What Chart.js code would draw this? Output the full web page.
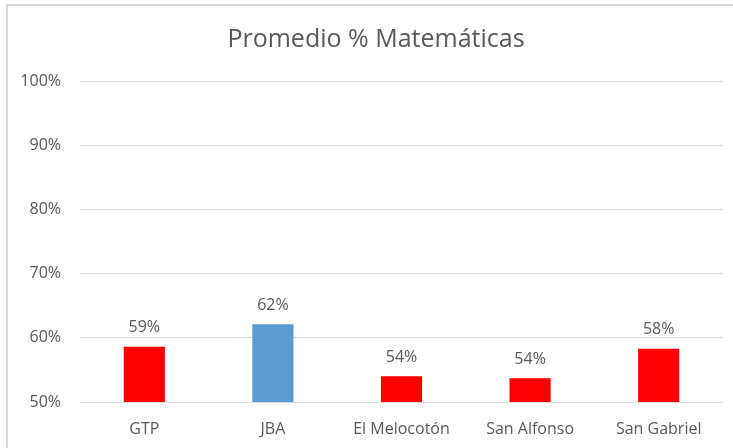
<!DOCTYPE html>
<html>
<head>
<meta charset="utf-8">
<script src="https://cdn.jsdelivr.net/npm/chart.js@4"></script>
<style>
  html, body { margin: 0; padding: 0; background: #fff; }
  .wrap { position: relative; width: 733px; height: 448px; overflow: hidden; }
  .frame { position: absolute; left: 6px; top: 4px; width: 800px; height: 500px;
           border-left: 2px solid #d9d9d9; border-top: 2px solid #d9d9d9; }
  canvas { position: absolute; left: 0; top: 0; }
</style>
</head>
<body>
<div class="wrap">
  <div class="frame"></div>
  <canvas id="chart" width="733" height="448"></canvas>
</div>
<script>
const chartTitle = 'Promedio % Matemáticas';
const categories = ['GTP', 'JBA', 'El Melocotón', 'San Alfonso', 'San Gabriel'];
const promedio = [58.6, 62.1, 54.0, 53.7, 58.3];
const barColors = ['#ff0000', '#5b9bd5', '#ff0000', '#ff0000', '#ff0000'];
const yTicks = [50, 60, 70, 80, 90, 100];

const textColor = '#595959';
const fontFamily = '"Open Sans", "Noto Sans", sans-serif';

// title centred on the whole chart frame, not just the plot area
const frameTitle = {
  id: 'frameTitle',
  afterDraw(chart) {
    const ctx = chart.ctx;
    ctx.save();
    ctx.font = '25px ' + fontFamily;
    ctx.fillStyle = textColor;
    ctx.textAlign = 'center';
    ctx.textBaseline = 'alphabetic';
    ctx.fillText(chartTitle, 376, 47);
    ctx.restore();
  }
};

// value labels above each bar
const barLabels = {
  id: 'barLabels',
  afterDatasetsDraw(chart) {
    const ctx = chart.ctx;
    const meta = chart.getDatasetMeta(0);
    ctx.save();
    ctx.font = '16px ' + fontFamily;
    ctx.fillStyle = textColor;
    ctx.textAlign = 'center';
    ctx.textBaseline = 'middle';
    meta.data.forEach((bar, i) => {
      ctx.fillText(Math.round(promedio[i]) + '%', bar.x, bar.y - 19);
    });
    ctx.restore();
  }
};

new Chart(document.getElementById('chart'), {
  type: 'bar',
  data: {
    labels: categories,
    datasets: [{
      data: promedio,
      backgroundColor: barColors,
      borderWidth: 0,
      barPercentage: 0.32,
      categoryPercentage: 1
    }]
  },
  options: {
    responsive: false,
    animation: false,
    layout: { padding: { left: 0, right: 10, top: 81, bottom: 0 } },
    plugins: {
      legend: { display: false },
      tooltip: { enabled: false },
      title: { display: false }
    },
    scales: {
      x: {
        grid: { display: false, drawTicks: false },
        border: { display: false },
        ticks: {
          color: textColor,
          font: { family: fontFamily, size: 16 },
          padding: 18,
          maxRotation: 0
        },
        afterFit(scale) { scale.height = 46; }
      },
      y: {
        min: 50,
        max: 100,
        afterBuildTicks(scale) { scale.ticks = yTicks.map(v => ({ value: v })); },
        grid: { color: '#d9d9d9', lineWidth: 1, drawTicks: false },
        border: { display: false },
        ticks: {
          color: textColor,
          font: { family: fontFamily, size: 16 },
          padding: 19,
          callback: v => v + '%'
        },
        afterFit(scale) { scale.width = 80; }
      }
    }
  },
  plugins: [barLabels, frameTitle]
});
</script>
</body>
</html>
